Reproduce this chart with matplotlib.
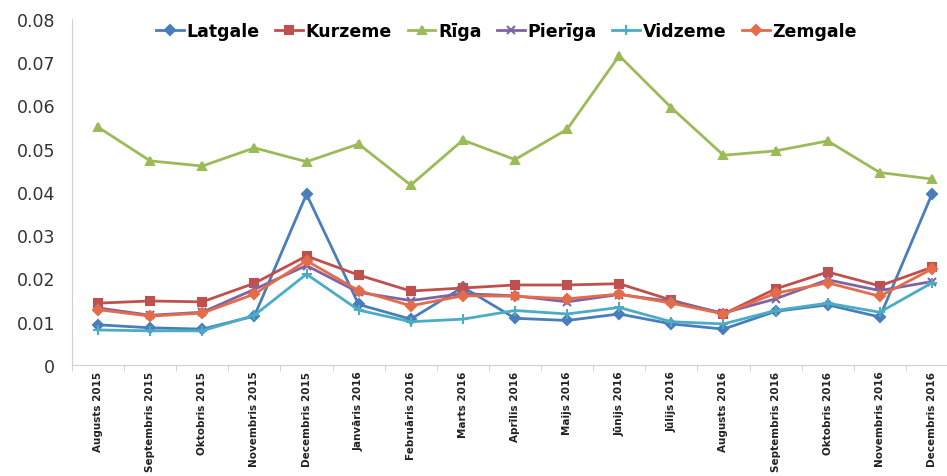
import matplotlib
matplotlib.use("Agg")
import matplotlib.pyplot as plt
import numpy as np

months = ["Augusts 2015", "Septembris 2015", "Oktobris 2015", "Novembris 2015",
          "Decembris 2015", "Janvāris 2016", "Februāris 2016", "Marts 2016",
          "Aprīlis 2016", "Maijs 2016", "Jūnijs 2016", "Jūlijs 2016",
          "Augusts 2016", "Septembris 2016", "Oktobris 2016", "Novembris 2016",
          "Decembris 2016"]

latgale = [0.0093, 0.0086, 0.0083, 0.0113, 0.0395, 0.0140, 0.0106, 0.0180,
           0.0108, 0.0103, 0.0118, 0.0095, 0.0083, 0.0124, 0.0139, 0.0111, 0.0395]
kurzeme = [0.0143, 0.0148, 0.0146, 0.0189, 0.0252, 0.0208, 0.0171, 0.0178,
           0.0185, 0.0185, 0.0188, 0.0150, 0.0118, 0.0176, 0.0215, 0.0183, 0.0226]
riga = [0.0550, 0.0472, 0.0460, 0.0502, 0.0470, 0.0511, 0.0416, 0.0520,
        0.0475, 0.0545, 0.0715, 0.0595, 0.0485, 0.0495, 0.0518, 0.0445, 0.0430]
pieriga = [0.0132, 0.0115, 0.0122, 0.0175, 0.0230, 0.0168, 0.0149, 0.0165,
           0.0160, 0.0146, 0.0163, 0.0147, 0.0120, 0.0153, 0.0197, 0.0172, 0.0193]
vidzeme = [0.0081, 0.0079, 0.0079, 0.0115, 0.0210, 0.0127, 0.0100, 0.0106,
           0.0126, 0.0118, 0.0133, 0.0100, 0.0095, 0.0126, 0.0143, 0.0122, 0.0190]
zemgale = [0.0128, 0.0113, 0.0120, 0.0164, 0.0241, 0.0172, 0.0137, 0.0160,
           0.0159, 0.0153, 0.0164, 0.0143, 0.0118, 0.0166, 0.0190, 0.0159, 0.0222]

series = [
    ("Latgale", latgale, "#4A7EBB", "D", 5),
    ("Kurzeme", kurzeme, "#C0504D", "s", 6),
    ("Rīga", riga, "#9BBB59", "^", 6),
    ("Pierīga", pieriga, "#8064A2", "x", 6),
    ("Vidzeme", vidzeme, "#4BACC6", "+", 7),
    ("Zemgale", zemgale, "#E46C4A", "D", 5),
]

fig = plt.figure(figsize=(9.47, 4.77), dpi=100)
ax = fig.add_axes([0.076, 0.2327, 0.9356, 0.7254])
x = np.arange(len(months))
for name, vals, col, mk, ms in series:
    ax.plot(x, vals, color=col, marker=mk, markersize=ms, linewidth=2,
            markeredgewidth=1.5, label=name)

ax.set_xlim(-0.5, len(months) - 0.5)
ax.set_ylim(0, 0.08)
ax.set_yticks(np.arange(0, 0.081, 0.01))
ax.set_yticklabels(["0"] + [f"{v:.2f}" for v in np.arange(0.01, 0.081, 0.01)],
                   fontsize=12.5, color="#333333")
ax.set_xticks(x)
ax.set_xticklabels(months, rotation=90, fontsize=7.5, fontweight="bold",
                   color="#222222")
ax.set_xticks(np.arange(-0.5, len(months), 1), minor=True)
ax.tick_params(axis="x", which="major", length=0, pad=4)
ax.tick_params(axis="x", which="minor", length=4, color="#cccccc")
ax.tick_params(axis="y", length=0, pad=12)
for s in ["top", "right"]:
    ax.spines[s].set_visible(False)
for s in ["left", "bottom"]:
    ax.spines[s].set_color("#d0d0d0")

fig.legend(loc="upper center", bbox_to_anchor=(0.535, 0.985), ncol=6,
           frameon=False, prop={"size": 12.5, "weight": "bold"},
           handlelength=1.6, handletextpad=0.15, columnspacing=0.9)

fig.savefig("out.png", dpi=100)
